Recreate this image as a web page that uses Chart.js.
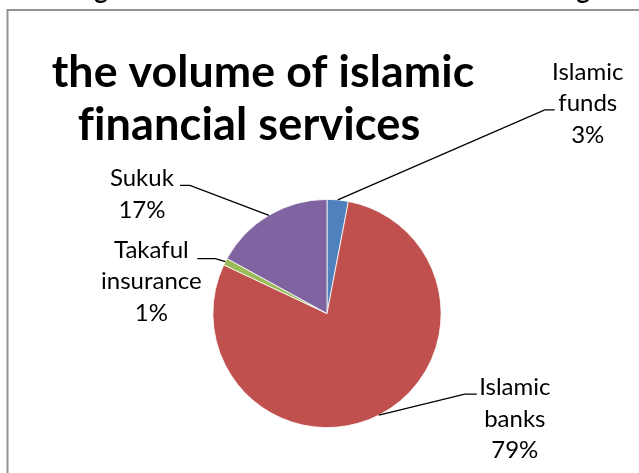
<!DOCTYPE html>
<html>
<head>
<meta charset="utf-8">
<script src="https://cdn.jsdelivr.net/npm/chart.js@4"></script>
<style>
  html, body { margin: 0; padding: 0; background: #fff; }
  #wrap { position: relative; width: 639px; height: 473px; }
</style>
</head>
<body>
<div id="wrap"><canvas id="c" width="639" height="473"></canvas></div>
<script>
// Shares of the Islamic financial services market (percent)
const categories = ['Islamic funds', 'Islamic banks', 'Takaful insurance', 'Sukuk'];
const shares = [3, 79, 1, 17];
const labelNames = [['Islamic', 'funds'], ['Islamic', 'banks'], ['Takaful', 'insurance'], ['Sukuk']];
const sliceColors = ['#4F81BD', '#C0504D', '#9BBB59', '#8064A2'];
const titleLines = ['the volume of islamic', 'financial services'];

// Label placement, relative to the point where each leader leaves its slice:
// elbow = bend of the leader, tail = short horizontal run, text = centre x / first baseline
const labelLayout = [
  { elbow: [207, -90], tail: 10,  text: [250, -120] },
  { elbow: [86, -21],  tail: 12,  text: [136, -20] },
  { elbow: [-10, -3],  tail: -18, text: [-74, -4] },
  { elbow: [-79, -30], tail: -10, text: [-127, -29] }
];

const FONT = 'Lato, "Open Sans", sans-serif';

const frame = {
  id: 'frame',
  beforeDraw(chart) {
    const ctx = chart.ctx;
    ctx.save();
    ctx.fillStyle = '#fff';
    ctx.fillRect(0, 0, chart.width, chart.height);
    // bottoms of the caption glyphs above the chart frame
    ctx.fillStyle = '#000';
    ctx.font = 'bold 26px ' + FONT;
    ctx.textAlign = 'center';
    ctx.textBaseline = 'alphabetic';
    ctx.fillText('g', 101, -1.5);
    ctx.fillText('g', 583, -1.5);
    // frame
    ctx.strokeStyle = '#939393';
    ctx.lineWidth = 2;
    ctx.beginPath();
    ctx.moveTo(7.5, chart.height);
    ctx.lineTo(7.5, 10);
    ctx.lineTo(chart.width, 10);
    ctx.stroke();
    ctx.restore();
  }
};

const titleAndLabels = {
  id: 'titleAndLabels',
  afterDatasetsDraw(chart) {
    const ctx = chart.ctx;
    ctx.save();
    // title, each line sized to its set width; tiny letter spacing keeps "fi" unligated
    ctx.fillStyle = '#000';
    ctx.textAlign = 'center';
    ctx.textBaseline = 'alphabetic';
    ctx.letterSpacing = '0.1px';
    const titleCenters = [263, 249];
    const titleWidths = [423, 343];
    const titleBase = [87, 140];
    titleLines.forEach((line, i) => {
      ctx.font = 'bold 40px ' + FONT;
      const w = ctx.measureText(line).width;
      const size = 40 * titleWidths[i] / w;
      ctx.font = 'bold ' + size.toFixed(2) + 'px ' + FONT;
      ctx.fillText(line, titleCenters[i], titleBase[i]);
    });
    ctx.letterSpacing = '0px';

    // data labels with leader lines
    const meta = chart.getDatasetMeta(0);
    ctx.font = '24px ' + FONT;
    meta.data.forEach((arc, i) => {
      const p = arc.getProps(['x', 'y', 'startAngle', 'endAngle', 'outerRadius'], true);
      const mid = (p.startAngle + p.endAngle) / 2;
      const sx = p.x + Math.cos(mid) * p.outerRadius;
      const sy = p.y + Math.sin(mid) * p.outerRadius;
      const L = labelLayout[i];
      const ex = sx + L.elbow[0], ey = sy + L.elbow[1];
      ctx.strokeStyle = '#000';
      ctx.lineWidth = 1.3;
      ctx.beginPath();
      ctx.moveTo(sx, sy);
      ctx.lineTo(ex, ey);
      ctx.lineTo(ex + L.tail, ey);
      ctx.stroke();

      const lines = labelNames[i].concat([shares[i] + '%']);
      const tx = sx + L.text[0];
      let ty = sy + L.text[1];
      ctx.fillStyle = '#000';
      lines.forEach(t => {
        ctx.fillText(t, tx, ty);
        ty += 31.5;
      });
    });
    ctx.restore();
  }
};

new Chart(document.getElementById('c'), {
  type: 'pie',
  data: {
    labels: categories,
    datasets: [{
      data: shares,
      backgroundColor: sliceColors,
      borderColor: '#ffffff',
      borderWidth: 0.8
    }]
  },
  options: {
    responsive: false,
    animation: false,
    layout: { padding: { left: 212, right: 197, top: 199, bottom: 45 } },
    plugins: {
      legend: { display: false },
      title: { display: false },
      tooltip: { enabled: false }
    }
  },
  plugins: [frame, titleAndLabels]
});
</script>
</body>
</html>
